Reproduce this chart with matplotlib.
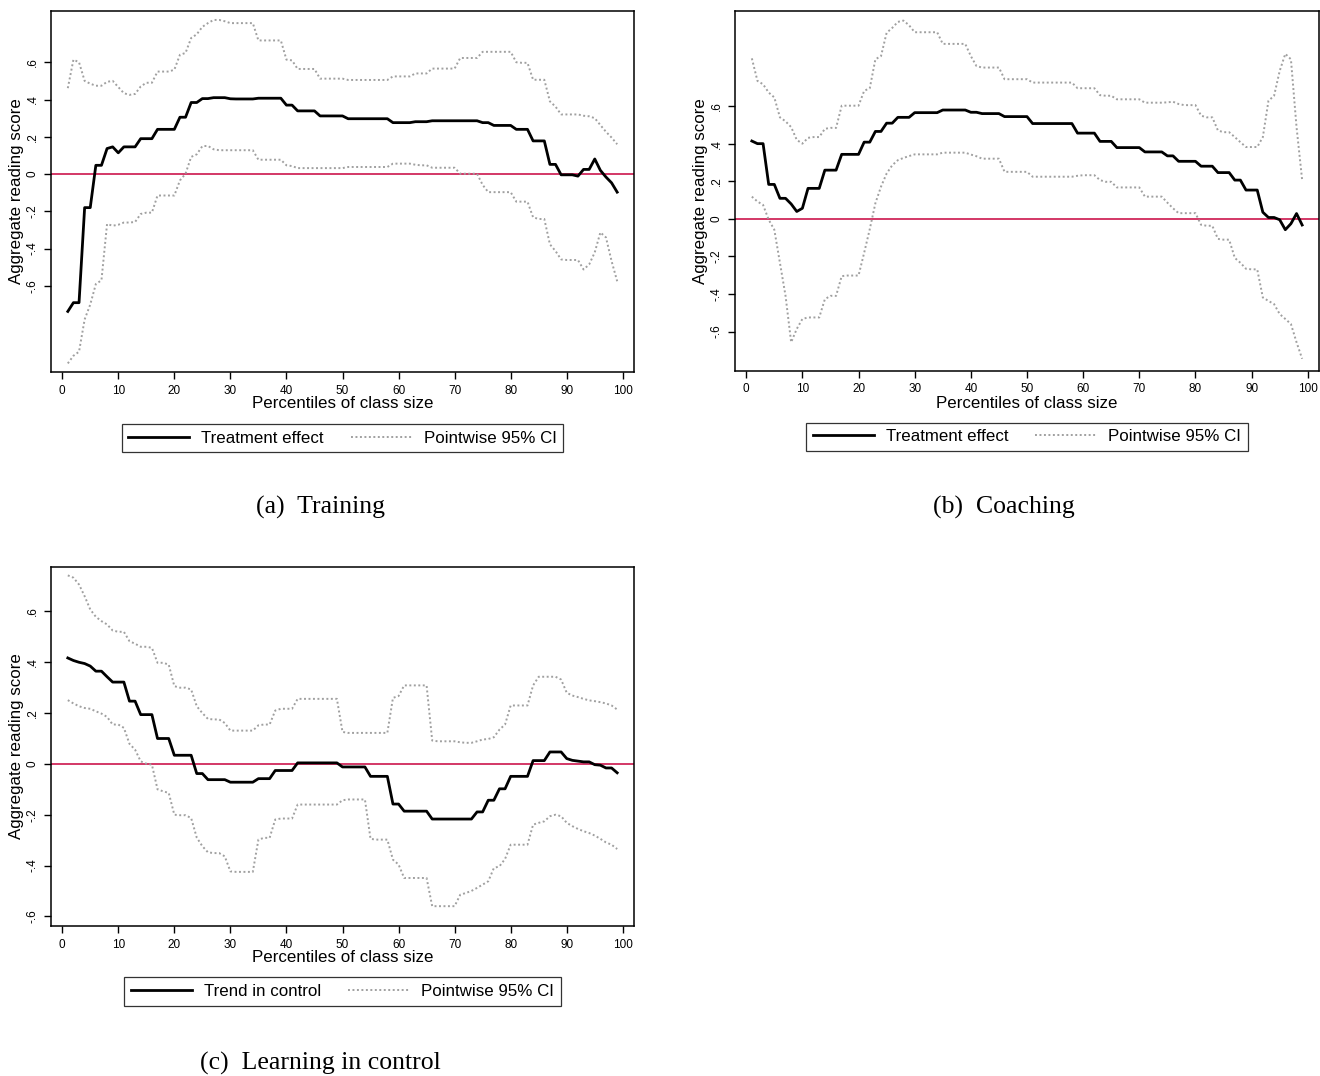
import numpy as np
import matplotlib
matplotlib.use("Agg")
import matplotlib.pyplot as plt

# percentiles of class size
pct = np.arange(1, 100)

# (a) Training
train_eff = [
    -0.737, -0.69, -0.69, -0.18, -0.18, 0.047, 0.047, 0.137, 0.146, 0.114,
    0.146, 0.146, 0.146, 0.19, 0.19, 0.19, 0.24, 0.24, 0.24, 0.24,
    0.305, 0.305, 0.384, 0.384, 0.405, 0.405, 0.41, 0.41, 0.41, 0.404,
    0.403, 0.403, 0.403, 0.403, 0.407, 0.407, 0.407, 0.407, 0.407, 0.37,
    0.37, 0.339, 0.339, 0.339, 0.339, 0.312, 0.312, 0.312, 0.312, 0.312,
    0.297, 0.297, 0.297, 0.297, 0.297, 0.297, 0.297, 0.297, 0.276, 0.276,
    0.276, 0.276, 0.281, 0.281, 0.281, 0.286, 0.286, 0.286, 0.286, 0.286,
    0.286, 0.286, 0.286, 0.286, 0.276, 0.276, 0.261, 0.261, 0.261, 0.261,
    0.24, 0.24, 0.24, 0.178, 0.178, 0.178, 0.052, 0.052, -0.004, -0.004,
    -0.004, -0.011, 0.025, 0.025, 0.081, 0.02, -0.016, -0.047, -0.097,
]
train_hi = [
    0.461, 0.614, 0.6, 0.5, 0.485, 0.474, 0.474, 0.495, 0.5, 0.467,
    0.434, 0.425, 0.43, 0.47, 0.49, 0.49, 0.55, 0.55, 0.55, 0.56,
    0.64, 0.65, 0.73, 0.75, 0.79, 0.81, 0.827, 0.827, 0.82, 0.81,
    0.81, 0.81, 0.81, 0.81, 0.717, 0.717, 0.717, 0.717, 0.717, 0.614,
    0.61, 0.564, 0.564, 0.564, 0.564, 0.512, 0.512, 0.512, 0.512, 0.512,
    0.505, 0.505, 0.505, 0.505, 0.505, 0.505, 0.505, 0.505, 0.524, 0.524,
    0.524, 0.524, 0.54, 0.54, 0.54, 0.566, 0.566, 0.566, 0.566, 0.566,
    0.623, 0.623, 0.623, 0.623, 0.656, 0.656, 0.656, 0.656, 0.656, 0.656,
    0.6, 0.597, 0.597, 0.506, 0.506, 0.506, 0.39, 0.362, 0.32, 0.32,
    0.32, 0.32, 0.313, 0.31, 0.3, 0.263, 0.227, 0.196, 0.16,
]
train_lo = [
    -1.016, -0.975, -0.953, -0.78, -0.70, -0.59, -0.57, -0.268, -0.277, -0.272,
    -0.26, -0.26, -0.257, -0.214, -0.207, -0.207, -0.115, -0.115, -0.115, -0.115,
    -0.034, 0.002, 0.092, 0.106, 0.15, 0.151, 0.133, 0.128, 0.128, 0.128,
    0.128, 0.128, 0.128, 0.128, 0.077, 0.077, 0.077, 0.077, 0.077, 0.047,
    0.043, 0.032, 0.032, 0.032, 0.032, 0.032, 0.032, 0.032, 0.032, 0.032,
    0.038, 0.038, 0.038, 0.038, 0.038, 0.038, 0.038, 0.038, 0.056, 0.056,
    0.056, 0.056, 0.05, 0.047, 0.047, 0.034, 0.034, 0.034, 0.034, 0.034,
    0.002, 0.002, 0.002, 0.002, -0.058, -0.097, -0.097, -0.097, -0.097, -0.097,
    -0.148, -0.148, -0.148, -0.232, -0.241, -0.241, -0.377, -0.413, -0.458, -0.461,
    -0.461, -0.461, -0.512, -0.485, -0.42, -0.313, -0.34, -0.467, -0.575,
]

# (b) Coaching
coach_eff = [
    0.414, 0.40, 0.40, 0.183, 0.183, 0.109, 0.109, 0.079, 0.039, 0.056,
    0.162, 0.162, 0.162, 0.259, 0.259, 0.259, 0.343, 0.343, 0.343, 0.343,
    0.408, 0.408, 0.465, 0.465, 0.509, 0.509, 0.54, 0.54, 0.54, 0.565,
    0.565, 0.565, 0.565, 0.565, 0.579, 0.579, 0.579, 0.579, 0.579, 0.567,
    0.567, 0.56, 0.56, 0.56, 0.56, 0.544, 0.544, 0.544, 0.544, 0.544,
    0.507, 0.507, 0.507, 0.507, 0.507, 0.507, 0.507, 0.507, 0.456, 0.456,
    0.456, 0.456, 0.412, 0.412, 0.412, 0.379, 0.379, 0.379, 0.379, 0.379,
    0.356, 0.356, 0.356, 0.356, 0.335, 0.335, 0.306, 0.306, 0.306, 0.306,
    0.28, 0.28, 0.28, 0.246, 0.246, 0.246, 0.206, 0.206, 0.153, 0.153,
    0.153, 0.035, 0.007, 0.007, -0.005, -0.058, -0.026, 0.028, -0.033,
]
coach_hi = [
    0.854, 0.734, 0.716, 0.672, 0.646, 0.54, 0.519, 0.488, 0.42, 0.40,
    0.431, 0.435, 0.435, 0.479, 0.484, 0.484, 0.602, 0.602, 0.602, 0.602,
    0.681, 0.695, 0.849, 0.866, 0.99, 1.016, 1.048, 1.055, 1.03, 0.993,
    0.993, 0.993, 0.993, 0.993, 0.931, 0.931, 0.931, 0.931, 0.931, 0.866,
    0.813, 0.805, 0.805, 0.805, 0.805, 0.743, 0.743, 0.743, 0.743, 0.743,
    0.725, 0.725, 0.725, 0.725, 0.725, 0.725, 0.725, 0.725, 0.695, 0.695,
    0.695, 0.695, 0.658, 0.655, 0.655, 0.636, 0.636, 0.636, 0.636, 0.636,
    0.618, 0.618, 0.618, 0.618, 0.62, 0.623, 0.611, 0.605, 0.605, 0.605,
    0.549, 0.54, 0.54, 0.47, 0.461, 0.461, 0.435, 0.408, 0.382, 0.382,
    0.382, 0.435, 0.628, 0.655, 0.787, 0.878, 0.849, 0.488, 0.206,
]
coach_lo = [
    0.118, 0.092, 0.074, -0.005, -0.058, -0.234, -0.41, -0.657, -0.586, -0.533,
    -0.525, -0.525, -0.525, -0.428, -0.41, -0.41, -0.305, -0.302, -0.302, -0.302,
    -0.181, -0.055, 0.083, 0.171, 0.241, 0.285, 0.312, 0.324, 0.334, 0.343,
    0.343, 0.343, 0.343, 0.343, 0.352, 0.352, 0.352, 0.352, 0.352, 0.342,
    0.333, 0.32, 0.32, 0.32, 0.32, 0.25, 0.25, 0.25, 0.25, 0.25,
    0.224, 0.224, 0.224, 0.224, 0.224, 0.224, 0.224, 0.224, 0.229, 0.232,
    0.232, 0.232, 0.206, 0.197, 0.197, 0.167, 0.167, 0.167, 0.167, 0.167,
    0.118, 0.118, 0.118, 0.118, 0.086, 0.056, 0.03, 0.03, 0.03, 0.03,
    -0.032, -0.037, -0.037, -0.107, -0.111, -0.111, -0.208, -0.234, -0.266, -0.269,
    -0.269, -0.419, -0.437, -0.454, -0.507, -0.533, -0.56, -0.657, -0.745,
]

# (c) Learning in control
ctrl_eff = [
    0.417, 0.407, 0.40, 0.395, 0.385, 0.365, 0.365, 0.343, 0.322, 0.322,
    0.322, 0.247, 0.247, 0.194, 0.194, 0.194, 0.10, 0.10, 0.10, 0.034,
    0.034, 0.034, 0.034, -0.038, -0.038, -0.062, -0.062, -0.062, -0.062, -0.072,
    -0.072, -0.072, -0.072, -0.072, -0.058, -0.058, -0.058, -0.026, -0.026, -0.026,
    -0.026, 0.004, 0.004, 0.004, 0.004, 0.004, 0.004, 0.004, 0.004, -0.012,
    -0.012, -0.012, -0.012, -0.012, -0.049, -0.049, -0.049, -0.049, -0.158, -0.158,
    -0.186, -0.186, -0.186, -0.186, -0.186, -0.217, -0.217, -0.217, -0.217, -0.217,
    -0.217, -0.217, -0.217, -0.189, -0.189, -0.143, -0.143, -0.098, -0.098, -0.049,
    -0.049, -0.049, -0.049, 0.013, 0.013, 0.013, 0.047, 0.047, 0.047, 0.021,
    0.014, 0.011, 0.008, 0.008, -0.003, -0.005, -0.016, -0.016, -0.035,
]
ctrl_hi = [
    0.742, 0.733, 0.706, 0.66, 0.608, 0.579, 0.562, 0.549, 0.525, 0.52,
    0.52, 0.483, 0.473, 0.461, 0.461, 0.457, 0.398, 0.398, 0.391, 0.306,
    0.30, 0.30, 0.293, 0.227, 0.20, 0.177, 0.175, 0.175, 0.161, 0.131,
    0.131, 0.131, 0.131, 0.131, 0.152, 0.155, 0.155, 0.21, 0.217, 0.217,
    0.217, 0.256, 0.256, 0.256, 0.256, 0.256, 0.256, 0.256, 0.256, 0.126,
    0.122, 0.122, 0.122, 0.122, 0.122, 0.122, 0.122, 0.122, 0.26, 0.267,
    0.309, 0.309, 0.309, 0.309, 0.309, 0.092, 0.089, 0.089, 0.089, 0.089,
    0.085, 0.083, 0.083, 0.089, 0.096, 0.098, 0.105, 0.135, 0.155, 0.23,
    0.23, 0.23, 0.23, 0.309, 0.343, 0.343, 0.343, 0.343, 0.332, 0.28,
    0.269, 0.263, 0.256, 0.25, 0.247, 0.243, 0.238, 0.23, 0.214,
]
ctrl_lo = [
    0.251, 0.238, 0.227, 0.22, 0.217, 0.207, 0.198, 0.185, 0.155, 0.155,
    0.142, 0.079, 0.056, 0.01, 0.001, -0.003, -0.10, -0.108, -0.114, -0.20,
    -0.202, -0.202, -0.213, -0.29, -0.324, -0.348, -0.351, -0.351, -0.364, -0.423,
    -0.425, -0.425, -0.425, -0.425, -0.298, -0.291, -0.291, -0.219, -0.215, -0.215,
    -0.215, -0.16, -0.16, -0.16, -0.16, -0.16, -0.16, -0.16, -0.16, -0.143,
    -0.14, -0.14, -0.14, -0.14, -0.295, -0.298, -0.298, -0.298, -0.377, -0.396,
    -0.449, -0.449, -0.449, -0.449, -0.449, -0.56, -0.56, -0.56, -0.56, -0.56,
    -0.515, -0.508, -0.50, -0.488, -0.475, -0.462, -0.41, -0.403, -0.374, -0.318,
    -0.318, -0.318, -0.318, -0.239, -0.232, -0.226, -0.206, -0.20, -0.206, -0.232,
    -0.245, -0.256, -0.265, -0.272, -0.282, -0.295, -0.309, -0.318, -0.335,
]

x_ticks = np.arange(0, 101, 10)
y_ticks = [-0.6, -0.4, -0.2, 0, 0.2, 0.4, 0.6]
y_tick_labels = ["-.6", "-.4", "-.2", "0", ".2", ".4", ".6"]

SANS = ["Liberation Sans", "DejaVu Sans"]
SERIF = ["Liberation Serif", "DejaVu Serif"]
plt.rcParams["font.family"] = SANS

fig = plt.figure(figsize=(13.2, 10.76), dpi=100)

W, H = 1320.0, 1076.0


def px_axes(left, top, right, bottom):
    return fig.add_axes([left / W, 1 - bottom / H, (right - left) / W, (bottom - top) / H])


def draw_panel(ax, eff, hi, lo, ylim, eff_label):
    ax.plot(pct, hi, color="#a0a0a0", lw=1.4, linestyle=(0, (1, 1.3)))
    ax.plot(pct, lo, color="#a0a0a0", lw=1.4, linestyle=(0, (1, 1.3)),
            label="Pointwise 95% CI")
    ax.axhline(0, color="#d0285a", lw=1.3, zorder=1)
    ax.plot(pct, eff, color="black", lw=2.0, label=eff_label, zorder=3)
    ax.set_xlim(-2, 102)
    ax.set_ylim(*ylim)
    ax.set_xticks(x_ticks)
    ax.set_yticks(y_ticks)
    ax.set_yticklabels(y_tick_labels, rotation=90, va="center")
    ax.tick_params(axis="both", direction="out", length=5, width=1,
                   labelsize=8.5, pad=4)
    for s in ax.spines.values():
        s.set_linewidth(1.1)
    ax.set_xlabel("Percentiles of class size", fontsize=12.2, labelpad=0)
    ax.set_ylabel("Aggregate reading score", fontsize=12.2, labelpad=2)
    handles, labels = ax.get_legend_handles_labels()
    order = [labels.index(eff_label), labels.index("Pointwise 95% CI")]
    leg = ax.legend([handles[i] for i in order], [labels[i] for i in order],
                    loc="center", bbox_to_anchor=(0.5, -0.183), ncol=2,
                    fontsize=12.2, frameon=True, fancybox=False,
                    edgecolor="black", handlelength=3.6, handletextpad=0.7,
                    columnspacing=1.6, borderpad=0.4)
    leg.get_frame().set_linewidth(0.9)


ax_a = px_axes(51, 11, 634, 372)
draw_panel(ax_a, train_eff, train_hi, train_lo, (-1.062, 0.875), "Treatment effect")

ax_b = px_axes(735, 11, 1319, 371)
draw_panel(ax_b, coach_eff, coach_hi, coach_lo, (-0.81, 1.106), "Treatment effect")

ax_c = px_axes(51, 567, 634, 926)
draw_panel(ax_c, ctrl_eff, ctrl_hi, ctrl_lo, (-0.638, 0.775), "Trend in control")

fig.text(320 / W, 1 - 507 / H, "(a)  Training", family=SERIF, fontsize=18.5,
         ha="center", va="center")
fig.text(1004 / W, 1 - 507 / H, "(b)  Coaching", family=SERIF, fontsize=18.5,
         ha="center", va="center")
fig.text(320 / W, 1 - 1063 / H, "(c)  Learning in control", family=SERIF,
         fontsize=18.5, ha="center", va="center")

fig.savefig("out.png", dpi=100)
